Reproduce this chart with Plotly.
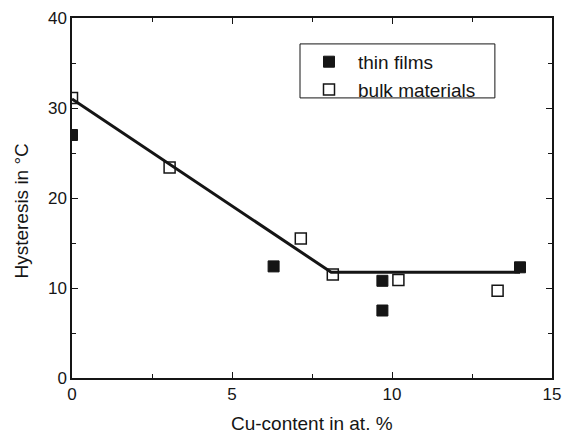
import plotly.graph_objects as go

# Data
thin_x = [0.0, 6.3, 9.7, 9.7, 14.0]
thin_y = [27.0, 12.4, 10.8, 7.5, 12.3]
bulk_x = [0.0, 3.05, 7.15, 8.15, 10.2, 13.3]
bulk_y = [31.1, 23.4, 15.5, 11.5, 10.9, 9.7]
fit_x = [0.0, 8.1, 14.0]
fit_y = [31.0, 11.75, 11.75]
x_title = "Cu-content in at. %"
y_title = "Hysteresis in °C"

FONT = "Liberation Sans, Arial, sans-serif"
INK = "#151515"

fig = go.Figure()
fig.add_trace(go.Scatter(x=fit_x, y=fit_y, mode="lines",
                         line=dict(color=INK, width=3), showlegend=False))
fig.add_trace(go.Scatter(x=thin_x, y=thin_y, mode="markers", name="thin films",
                         marker=dict(symbol="square", size=11, color=INK,
                                     line=dict(color=INK, width=1))))
fig.add_trace(go.Scatter(x=bulk_x, y=bulk_y, mode="markers", name="bulk materials",
                         marker=dict(symbol="square-open", size=11, color=INK,
                                     line=dict(color=INK, width=1.5))))

axis_common = dict(showgrid=False, zeroline=False, showline=True, linecolor=INK,
                   linewidth=1.5, mirror="allticks", ticks="inside", ticklen=6,
                   tickwidth=1.2, tickcolor=INK, automargin=False,
                   tickfont=dict(family=FONT, size=17, color=INK))

fig.update_xaxes(range=[0, 15], tick0=0, dtick=5,
                 minor=dict(ticks="inside", dtick=2.5, ticklen=4, tickcolor=INK),
                 **axis_common)
fig.update_yaxes(range=[0, 40], tick0=0, dtick=10,
                 minor=dict(ticks="inside", dtick=5, ticklen=4, tickcolor=INK),
                 **axis_common)

fig.add_annotation(text=x_title, xref="paper", yref="paper", x=0.5, y=-0.125,
                   xanchor="center", yanchor="middle", showarrow=False,
                   font=dict(family=FONT, size=19, color=INK))
fig.add_annotation(text=y_title, xref="paper", yref="paper", x=-0.105, y=0.464,
                   xanchor="center", yanchor="middle", showarrow=False, textangle=-90,
                   font=dict(family=FONT, size=19, color=INK))

# legend frame
fig.add_shape(type="rect", xref="paper", yref="paper", x0=0.475, x1=0.881,
              y0=0.778, y1=0.928, line=dict(color=INK, width=1), fillcolor="white",
              layer="below")

fig.update_layout(
    width=587, height=434,
    margin=dict(l=72, r=35, t=18, b=56),
    paper_bgcolor="white", plot_bgcolor="white",
    legend=dict(x=0.475, y=0.931, xanchor="left", yanchor="top",
                borderwidth=0, bgcolor="rgba(0,0,0,0)",
                font=dict(family=FONT, size=19, color=INK),
                tracegroupgap=0, itemwidth=48),
)

fig.write_html("out.html")
